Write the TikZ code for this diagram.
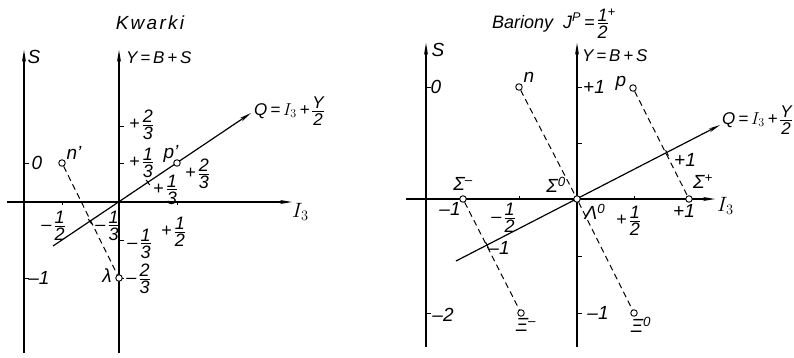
\documentclass[tikz,border=0pt]{standalone}
\usepackage{amsmath}
\usepackage{fontspec}
\setmainfont{Liberation Sans}
\usetikzlibrary{arrows.meta}
\newcommand\lbl{\fontsize{19}{21}\selectfont\itshape}
\newcommand\ttl{\fontsize{19}{21}\selectfont\itshape\addfontfeature{LetterSpace=12}}
\newcommand\frstack[2]{\vcenter{\hbox{\offinterlineskip\vbox{\halign{\hfil##\hfil\cr #1\cr\noalign{\kern2pt\hrule height 0.8pt\kern2pt}#2\cr}}}}}
\newcommand\fr[3]{\ensuremath{\text{#1}\frstack{#2}{#3}}}
\tikzset{
  axis/.style={line width=1.2pt,-{Stealth[length=12pt,width=4pt]}},
  qline/.style={line width=1.2pt},
  dsh/.style={line width=1pt,dash pattern=on 6pt off 4pt},
  tick/.style={line width=1pt},
  pt/.style={circle,draw,fill=white,line width=0.9pt,inner sep=0pt,minimum size=6.5pt},
  lab/.style={font=\lbl,inner sep=0pt},
  fl/.style={font=\fontsize{18}{19}\selectfont\itshape,inner sep=0pt},
  axl/.style={font=\fontsize{17}{19}\selectfont\itshape,inner sep=0pt},
}
\begin{document}
\begin{tikzpicture}[x=1pt,y=-1pt]
\useasboundingbox (0,0) rectangle (794,357);
% ================= LEFT: Kwarki =================
\coordinate (lSb) at (24,353); \coordinate (lSt) at (24,50);
\coordinate (lYb) at (119,353); \coordinate (lYt) at (119,50);
\coordinate (lIa) at (7,202); \coordinate (lIb) at (292,202);
\coordinate (lQa) at (53,246); \coordinate (lQb) at (251,113);
\draw[axis] (lSb) -- (lSt);
\draw[axis] (lYb) -- (lYt);
\draw[axis] (lIa) -- (lIb);
\draw[qline,-{Stealth[length=12pt,width=4pt]}] (lQa) -- (lQb);
% ticks
\foreach \yy in {163,278} \draw[tick] (24,\yy) -- (29,\yy);
\foreach \yy in {126,163,240,278} \draw[tick] (119,\yy) -- (124,\yy);
\foreach \xx in {62,177} \draw[tick] (\xx,202) -- (\xx,205);
\draw[tick] (146.3,180) -- (149.7,185);
\draw[tick] (88.3,219) -- (91.7,224);
% points
\node[pt] (np) at (62,163) {};
\node[pt] (pp) at (177,163) {};
\node[pt] (la) at (119,278) {};
\draw[dsh] (np) -- (la);
% labels
\node[font=\ttl,inner sep=0pt] (tK) at (150,23) {Kwarki};
\node[lab] (lS) at (34,57) {S};
\node[axl,anchor=west] (lY) at (126,58) {Y\,=\,B\,+\,S};
\node[axl,anchor=west] (lQ) at (254,111) {Q\,=\,$I_3$\,+\,\fr{}{Y}{2}};
\node[lab,anchor=west,font=\fontsize{22}{24}\selectfont] (lI) at (292,212) {$I_3$};
\node[lab] at (37,163) {0};
\node[lab] at (39,278) {–1};
\node[fl] at (141,125) {\fr{+\,}{2}{3}};
\node[fl] at (141,163) {\fr{+\,}{1}{3}};
\node[fl] at (139,244) {\fr{–\,}{1}{3}};
\node[fl] at (138,279) {\fr{–\,}{2}{3}};
\node[lab] at (107,276) {λ};
\node[lab] at (74,153) {n'};
\node[lab] at (171,154) {p'};
\node[fl] at (197,174) {\fr{+\,}{2}{3}};
\node[fl] at (165,190) {\fr{+\,}{1}{3}};
\node[fl] at (107,226) {\fr{–\,}{1}{3}};
\node[fl] at (53,226) {\fr{–\,}{1}{2}};
\node[fl] at (173,232) {\fr{+\,}{1}{2}};
% ================= RIGHT: Bariony =================
\coordinate (rSb) at (426,347); \coordinate (rSt) at (426,43);
\coordinate (rYb) at (577,347); \coordinate (rYt) at (577,43);
\coordinate (rIa) at (406,199); \coordinate (rIb) at (715,199);
\coordinate (rQa) at (456,261); \coordinate (rQb) at (720,125);
\draw[axis] (rSb) -- (rSt);
\draw[axis] (rYb) -- (rYt);
\draw[axis] (rIa) -- (rIb);
\draw[qline,-{Stealth[length=12pt,width=4pt]}] (rQa) -- (rQb);
\foreach \yy in {87,313} \draw[tick] (426,\yy) -- (431,\yy);
\foreach \yy in {87,143,256,313} \draw[tick] (577,\yy) -- (582,\yy);
\foreach \xx in {519,634} \draw[tick] (\xx,199) -- (\xx,196);
\draw[tick] (665.6,150.3) -- (668.4,155.7);
\draw[tick] (485.6,242.3) -- (488.4,247.7);
\node[pt] (n) at (519,87) {};
\node[pt] (p) at (633,88) {};
\node[pt] (Sm) at (463,199) {};
\node[pt] (S0) at (577,199) {};
\node[pt] (Sp) at (689,199) {};
\node[pt] (Xm) at (521,313) {};
\node[pt] (X0) at (634,313) {};
\draw[dsh] (n) -- (S0);
\draw[dsh] (S0) -- (X0);
\draw[dsh] (p) -- (Sp);
\draw[dsh] (Sm) -- (Xm);
\node[font=\fontsize{18}{20}\selectfont\itshape,inner sep=0pt,anchor=base west] (tB) at (492,28) {Bariony\hspace{10pt}J\textsuperscript{P}\,=\,\fr{}{1}{2}\rlap{\raisebox{12pt}{\fontsize{13}{13}\selectfont +}}};
\node[lab] (rS) at (438,50) {S};
\node[axl,anchor=west] (rY) at (582,56) {Y\,=\,B\,+\,S};
\node[axl,anchor=west] (rQ) at (722,120) {Q\,=\,$I_3$\,+\,\fr{}{Y}{2}};
\node[lab,anchor=west,font=\fontsize{22}{24}\selectfont] (rI) at (717,206) {$I_3$};
\node[lab] at (436,87) {0};
\node[lab] at (443,315) {–2};
\node[lab] at (594,87) {+1};
\node[lab] at (598,313) {–1};
\node[lab] at (529,77) {n};
\node[lab] at (621,83) {p};
\node[lab] at (526,325) {Ξ\textsuperscript{–}};
\node[lab] at (641,325) {Ξ\textsuperscript{0}};
\node[lab] at (463,184) {Σ\textsuperscript{–}};
\node[lab] at (450,209) {–1};
\node[fl] at (503,218) {\fr{–\,}{1}{2}};
\node[lab] at (499,248) {–1};
\node[lab] at (556,185) {Σ\textsuperscript{0}};
\node[lab] at (595,212) {Λ\textsuperscript{0}};
\node[fl] at (628,221) {\fr{+\,}{1}{2}};
\node[lab] at (703,182) {Σ\textsuperscript{+}};
\node[lab] at (684,211) {+1};
\node[lab] at (685,160) {+1};
\end{tikzpicture}
\end{document}
